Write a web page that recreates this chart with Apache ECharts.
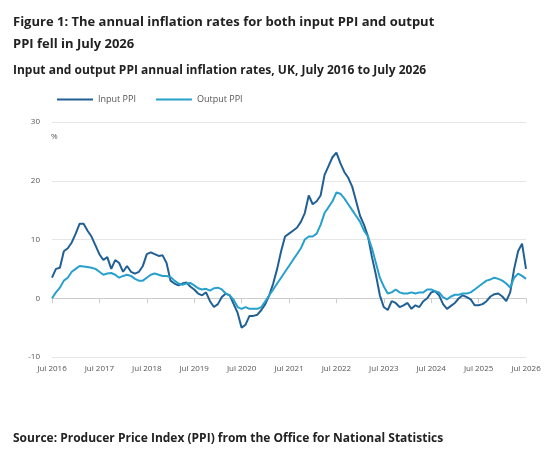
<!DOCTYPE html>
<html>
<head>
<meta charset="utf-8">
<script src="https://cdn.jsdelivr.net/npm/echarts@6/dist/echarts.min.js"></script>
<style>
  body { margin: 0; background: #fff; }
  #chart { width: 550px; height: 455px; }
</style>
</head>
<body>
<div id="chart"></div>
<script>
// monthly, Jul 2016 .. Jul 2026
var months = [];
var mNames = ['Jan','Feb','Mar','Apr','May','Jun','Jul','Aug','Sep','Oct','Nov','Dec'];
for (var y = 2016; y <= 2026; y++) {
  for (var m = 0; m < 12; m++) {
    if ((y == 2016 && m < 6) || (y == 2026 && m > 6)) continue;
    months.push(mNames[m] + ' ' + y);
  }
}

var inputPPI = [
  3.5, 5, 5.2, 8, 8.5, 9.5, 11, 12.7, 12.7, 11.5, 10.5, 9,
  7.5, 6.5, 7, 5, 6.5, 6, 4.5, 5.5, 4.5, 4.2, 4.5, 5.5,
  7.5, 7.8, 7.5, 7.2, 7.3, 6, 3, 2.5, 2.2, 2.5, 2.7, 2,
  1.5, 0.8, 0.5, 1, -0.5, -1.5, -1, 0.2, 0.8, 0.5, -1, -2.5,
  -5, -4.5, -3, -3, -2.8, -2, -1, 0.5, 2.5, 5, 8, 10.5,
  11, 11.5, 12, 13, 14.5, 17.5, 16, 16.5, 17.5, 21, 22.5, 24,
  24.8, 23, 21.5, 20.5, 19, 16.5, 14, 12.5, 10.5, 7, 4, 0.5,
  -1.5, -2, -0.5, -0.8, -1.5, -1.2, -0.8, -1.8, -1.2, -1.5, -0.5, 0,
  1, 1.2, 0.5, -1, -1.8, -1.3, -0.8, 0, 0.5, 0.2, -0.2, -1.2,
  -1.2, -1, -0.5, 0.3, 0.7, 0.8, 0.3, -0.5, 1, 5, 8, 9.3,
  5
];
var outputPPI = [
  0, 1, 1.8, 3, 3.5, 4.5, 5, 5.5, 5.4, 5.3, 5.2, 5,
  4.5, 4, 4.2, 4.3, 4, 3.5, 3.8, 4, 3.8, 3.3, 3, 3,
  3.5, 4, 4.2, 4, 3.8, 3.8, 3.6, 3, 2.5, 2.3, 2.5, 2.6,
  2.2, 1.7, 1.5, 1.6, 1.3, 1.7, 1.8, 1.5, 0.8, 0.5, -0.3, -1.5,
  -1.8, -1.5, -1.8, -1.8, -1.8, -1.5, -0.5, 0.5, 1.5, 2.5, 3.5, 4.5,
  5.5, 6.5, 7.5, 8.5, 10, 10.5, 10.5, 11, 12.5, 14.5, 15.5, 16.5,
  18, 17.8, 17, 16, 15, 14, 13, 11.5, 10.5, 8.5, 6, 3.5,
  2, 0.8, 1, 1.5, 1, 0.8, 0.8, 1, 0.8, 1, 1, 1.5,
  1.5, 1.2, 1, 0.2, -0.2, 0.3, 0.6, 0.6, 0.8, 0.8, 1, 1.5,
  2, 2.5, 3, 3.2, 3.5, 3.3, 3, 2.5, 1.8, 3.5, 4.2, 3.8,
  3.3
];

var chart = echarts.init(document.getElementById('chart'));
var font = '"Open Sans", "Noto Sans", sans-serif';
chart.setOption({
  animation: false,
  textStyle: { fontFamily: font },
  title: [
    { text: 'Figure 1: The annual inflation rates for both input PPI and output\nPPI fell in July 2026',
      left: 8, top: 6, textStyle: { fontSize: 13, fontWeight: 'bold', color: '#222', lineHeight: 22, fontFamily: font } },
    { text: 'Input and output PPI annual inflation rates, UK, July 2016 to July 2026',
      left: 8, top: 60, textStyle: { fontSize: 12, fontWeight: 'bold', color: '#222', fontFamily: font } },
    { text: 'Source: Producer Price Index (PPI) from the Office for National Statistics',
      left: 8, top: 428, textStyle: { fontSize: 12, fontWeight: 'bold', color: '#222', fontFamily: font } },
    { text: '%', left: 46, top: 128, textStyle: { fontSize: 8, fontWeight: 'normal', color: '#555' } }
  ],
  legend: {
    left: 52, top: 90, itemWidth: 36, itemHeight: 2, itemGap: 20,
    icon: 'rect',
    textStyle: { fontSize: 9, color: '#555' },
    data: ['Input PPI', 'Output PPI']
  },
  grid: { left: 52, right: 24, top: 122, bottom: 98 },
  xAxis: {
    type: 'category', data: months, boundaryGap: false,
    axisLine: { lineStyle: { color: '#ccc' } },
    axisTick: { interval: 11, alignWithLabel: true, lineStyle: { color: '#ccc' } },
    axisLabel: { interval: 11, fontSize: 8, color: '#555', margin: 8,
      formatter: function (v) { return v.replace('Jul', 'Jul'); } }
  },
  yAxis: {
    type: 'value', min: -10, max: 30, interval: 10,
    axisLabel: { fontSize: 8, color: '#555', margin: 12 },
    splitLine: { lineStyle: { color: '#e6e6e6' } }
  },
  series: [
    { name: 'Input PPI', type: 'line', data: inputPPI, showSymbol: false,
      lineStyle: { color: '#206095', width: 2 }, itemStyle: { color: '#206095' } },
    { name: 'Output PPI', type: 'line', data: outputPPI, showSymbol: false,
      lineStyle: { color: '#27a0cc', width: 2 }, itemStyle: { color: '#27a0cc' } }
  ]
});
</script>
</body>
</html>
